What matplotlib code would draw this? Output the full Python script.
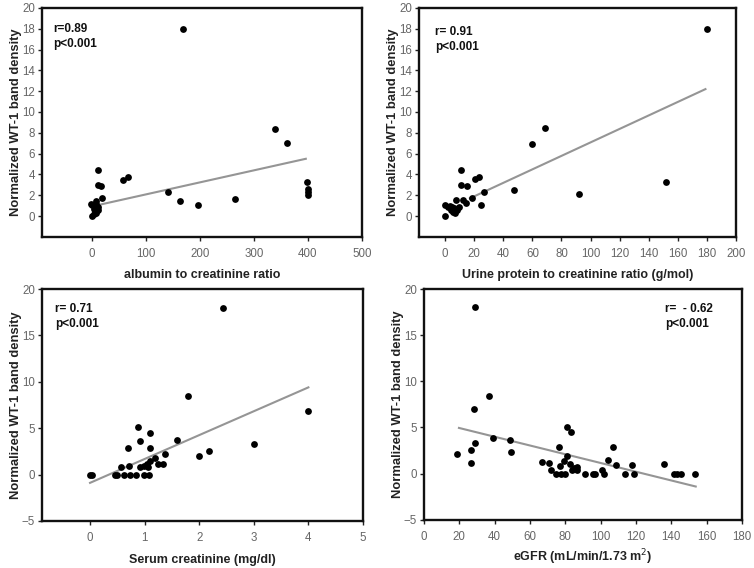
import matplotlib
matplotlib.use("Agg")
import matplotlib.pyplot as plt
import numpy as np

plt.rcParams['font.family'] = ['Liberation Sans', 'DejaVu Sans']

# Panel A: albumin to creatinine ratio
acr_x = [168, 339, 362, 399, 400, 400, 400, 264, 196, 163, 141, 58, 67, 10, 10, 16, 19,
         0, 0, 5, 8, 10, 8, 3, 7, 4, 11, -2]
acr_y = [18, 8.4, 7.0, 3.3, 2.6, 2.3, 2.0, 1.6, 1.1, 1.4, 2.3, 3.5, 3.75, 4.45, 2.95, 2.85, 1.7,
         0, 1.1, 1.0, 1.4, 0.6, 0.3, 0.7, 1.2, 0.2, 0.9, 1.2]
acr_fit = (0.01155, 0.93)      # slope, intercept
acr_fit_range = (15, 396)

# Panel B: urine protein to creatinine ratio
upcr_x = [180, 152, 92, 69, 60, 47.6, 27, 24.6, 23.4, 20.2, 18.4, 15, 14.5, 12.2, 10.8, 10.8, 7.6,
          0, 0, 1.8, 3.9, 5.3, 6.2, 8, 9.2, 4.6, 6.9, 3]
upcr_y = [18, 3.25, 2.1, 8.45, 6.95, 2.55, 2.35, 1.1, 3.8, 3.55, 1.75, 2.85, 1.3, 1.55, 4.45, 2.95, 1.5,
          0, 1.1, 0.9, 0.6, 0.35, 0.75, 0.6, 0.9, 0.85, 0.25, 1.0]
upcr_fit = (0.0648, 0.6)
upcr_fit_range = (17, 179)

# Panel C: serum creatinine
scr_x = [2.44, 4.0, 1.8, 3.0, 2.18, 2.0, 1.6, 1.38, 1.09, 0.88, 0.91, 1.1, 0.69,
         0.56, 0.72, 0.91, 1.04, 1.07, 1.1, 1.19, 1.25, 1.34, 0.98,
         0.0, 0.03, 0.46, 0.49, 0.62, 0.73, 0.85, 0.98, 1.08]
scr_y = [18.0, 6.9, 8.5, 3.25, 2.55, 2.0, 3.75, 2.25, 4.45, 5.1, 3.6, 2.85, 2.9,
         0.8, 0.9, 0.8, 1.1, 0.8, 1.5, 1.8, 1.15, 1.15, 0.9,
         0, 0, 0, 0, 0, 0, 0, 0, 0]
scr_fit = (2.575, -0.9)
scr_fit_range = (0, 4.0)

# Panel D: eGFR
egfr_x = [28.7, 37, 28.3, 28.9, 26.8, 26.8, 18.9, 39.2, 48.5, 49, 67, 71, 72, 75, 76.4, 77.4,
          77, 79.2, 80, 81, 80.8, 83, 82.6, 85, 86.4, 86.4, 83.6, 91, 95.8, 97, 100.6, 102,
          104, 107, 108.7, 113.8, 118, 119, 136, 141.5, 143.4, 145.3, 153.4]
egfr_y = [18.05, 8.45, 7.0, 3.3, 2.55, 1.15, 2.15, 3.85, 3.65, 2.35, 1.3, 1.15, 0.4, 0, 2.9, 0,
          0.8, 1.4, 0, 1.9, 5.1, 4.55, 1.0, 0.6, 0.7, 0.35, 0.35, 0, 0, 0, 0.35, 0,
          1.45, 2.9, 0.9, 0, 0.9, 0, 1.0, 0, 0, 0, 0]
egfr_fit = (-0.0474, 5.89)
egfr_fit_range = (19.8, 153.8)

ylabel = "Normalized WT-1 band density"

panels = [
    dict(x=acr_x, y=acr_y, fit=acr_fit, rng=acr_fit_range, pos=[0.0557, 0.583, 0.4243, 0.403],
         xlim=(-93, 500), xticks=[0, 100, 200, 300, 400, 500], ylim=(-2, 20), yticks=range(0, 21, 2),
         xlabel="albumin to creatinine ratio", txt="r=0.89\np<0.001", txtpos=(0.034, 0.935), lp=6.5),
    dict(x=upcr_x, y=upcr_y, fit=upcr_fit, rng=upcr_fit_range, pos=[0.5557, 0.583, 0.4204, 0.403],
         xlim=(-18, 200), xticks=range(0, 201, 20), ylim=(-2, 20), yticks=range(0, 21, 2),
         xlabel="Urine protein to creatinine ratio (g/mol)", txt="r= 0.91\np<0.001", txtpos=(0.05, 0.92), lp=6.5),
    dict(x=scr_x, y=scr_y, fit=scr_fit, rng=scr_fit_range, pos=[0.0557, 0.083, 0.4257, 0.408],
         xlim=(-0.88, 5), xticks=range(0, 6), ylim=(-5, 20), yticks=range(-5, 21, 5),
         xlabel="Serum creatinine (mg/dl)", txt="r= 0.71\np<0.001", txtpos=(0.04, 0.94), lp=7),
    dict(x=egfr_x, y=egfr_y, fit=egfr_fit, rng=egfr_fit_range, pos=[0.5623, 0.085, 0.4218, 0.406],
         xlim=(0, 180), xticks=range(0, 181, 20), ylim=(-5, 20), yticks=range(-5, 21, 5),
         xlabel="eGFR (mL/min/1.73 m$^{2}$)", txt="r=  - 0.62\np<0.001", txtpos=(0.758, 0.94), lp=3.5),
]

fig = plt.figure(figsize=(7.54, 5.68), dpi=100)
for p in panels:
    ax = fig.add_axes(p['pos'])
    xs = np.array(p['rng'])
    ax.plot(xs, p['fit'][0] * xs + p['fit'][1], color='#959595', lw=1.5, zorder=2)
    ax.scatter(p['x'], p['y'], s=24, color='black', zorder=3, linewidths=0)
    ax.set_xlim(*p['xlim'])
    ax.set_ylim(*p['ylim'])
    ax.set_xticks(list(p['xticks']))
    ax.set_yticks(list(p['yticks']))
    ax.tick_params(direction='out', length=3, width=1, colors='#222222', labelcolor='#666666',
                   labelsize=8.3, pad=2)
    ax.tick_params(axis='x', pad=5)
    for s in ax.spines.values():
        s.set_linewidth(1.7)
        s.set_color('#111111')
    ax.set_xlabel(p['xlabel'], fontsize=9, fontweight='bold', color='#222222', labelpad=p['lp'])
    ax.set_ylabel(ylabel, fontsize=9.4, fontweight='bold', color='#222222', labelpad=0)
    ax.text(p['txtpos'][0], p['txtpos'][1], p['txt'], transform=ax.transAxes, ha='left', va='top',
            fontsize=8.5, fontweight='bold', color='#111111', linespacing=1.3)

fig.savefig("out.png", dpi=100)
